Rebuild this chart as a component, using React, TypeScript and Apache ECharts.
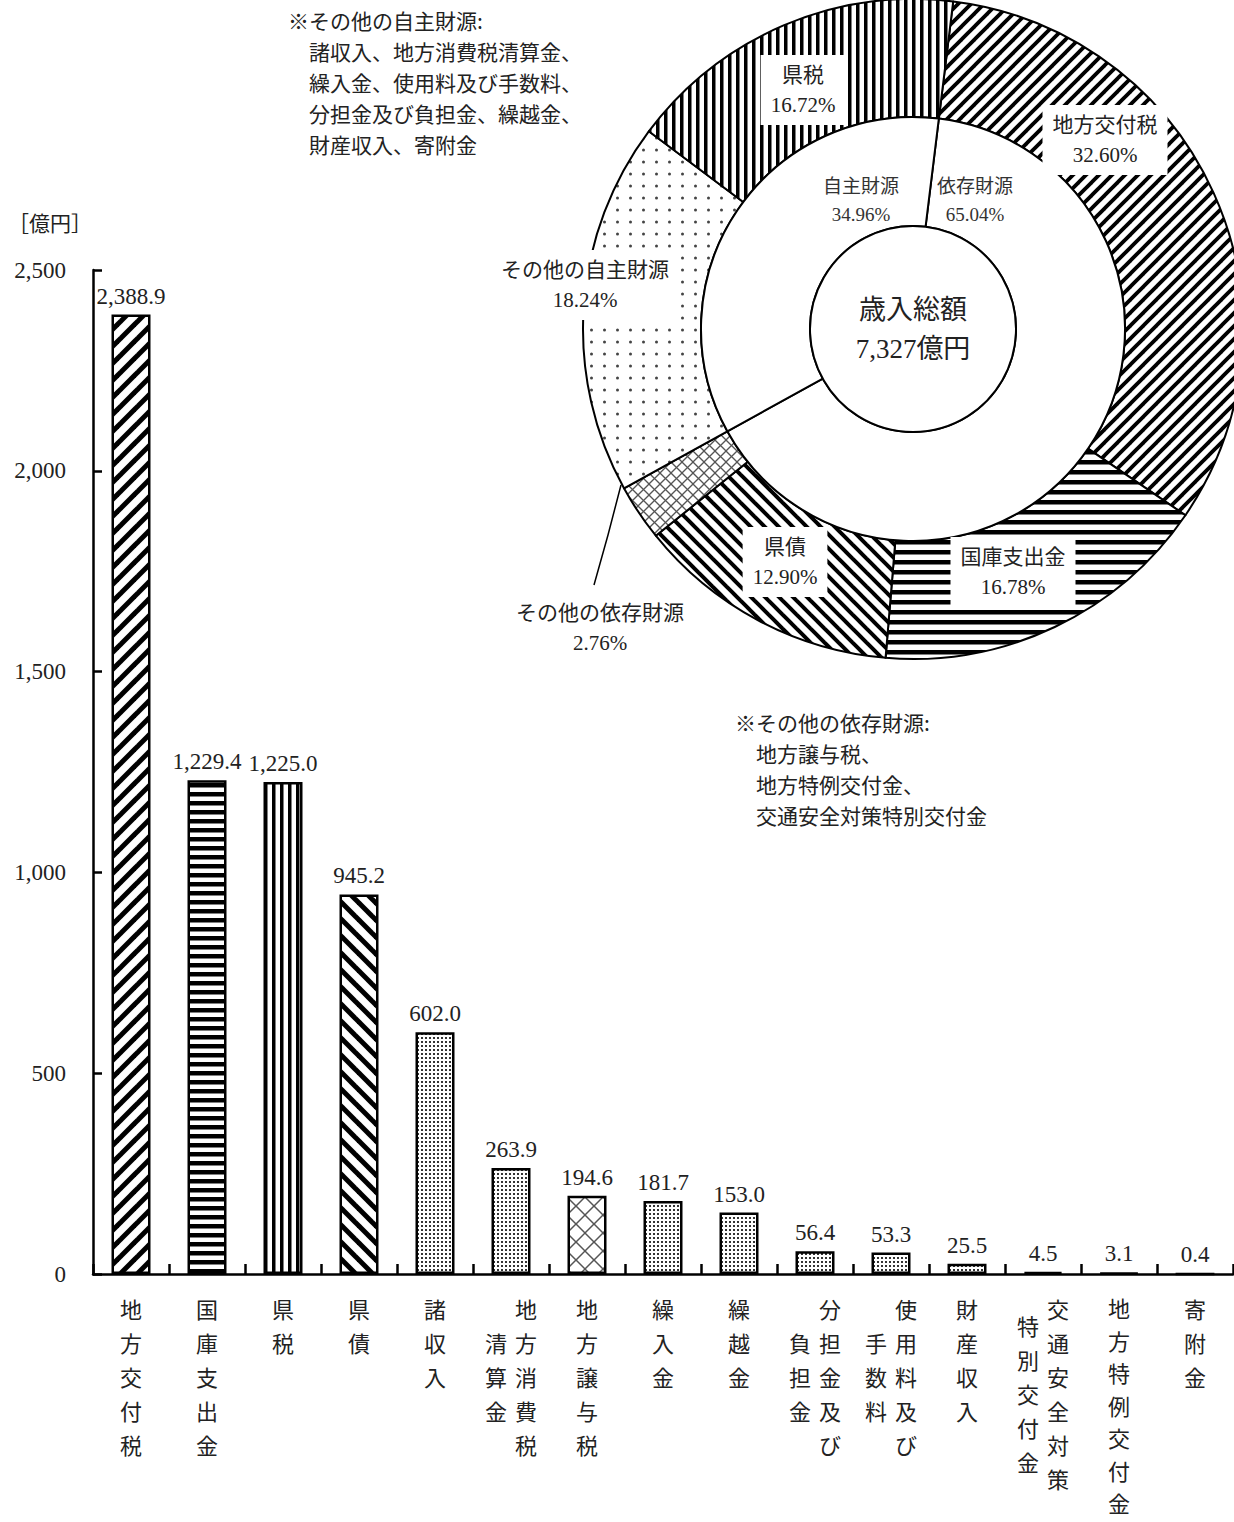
import React, { useEffect, useRef } from 'react';
import * as echarts from 'echarts';

// ---------- data ----------
const categories = ['地方交付税', '国庫支出金', '県税', '県債', '諸収入', '地方消費税清算金', '地方譲与税', '繰入金', '繰越金', '分担金及び負担金', '使用料及び手数料', '財産収入', '交通安全対策特別交付金', '地方特例交付金', '寄附金'];
const values = [2388.9, 1229.4, 1225.0, 945.2, 602.0, 263.9, 194.6, 181.7, 153.0, 56.4, 53.3, 25.5, 4.5, 3.1, 0.4];
const labelRightColumn = ['地方交付税', '国庫支出金', '県税', '県債', '諸収入', '地方消費税', '地方譲与税', '繰入金', '繰越金', '分担金及び', '使用料及び', '財産収入', '交通安全対策', '地方特例交付金', '寄附金'];
const labelLeftColumn = ['', '', '', '', '', '清算金', '', '', '', '負担金', '手数料', '', '特別交付金', '', ''];
const barPatternKeys = ['slash', 'hline', 'vline', 'backslash', 'dots', 'dots', 'cross', 'dots', 'dots', 'dots', 'dots', 'dots', 'white', 'dots', 'white'];

const yMin = 0;
const yMax = 2500;
const yInterval = 500;
const unitLabel = '［億円］';

const pieNames = ['地方交付税', '国庫支出金', '県債', 'その他の依存財源', 'その他の自主財源', '県税'];
const pieValues = [32.60, 16.78, 12.90, 2.76, 18.24, 16.72];
const piePatternKeys = ['slash', 'hline', 'backslash', 'cross', 'sparseDots', 'vline'];
const ringNames = ['依存財源', '自主財源'];
const ringValues = [65.04, 34.96];
const totalTitle = '歳入総額';
const totalAmount = '7,327億円';

const noteOwnTitle = '※その他の自主財源:';
const noteOwnLines = ['諸収入、地方消費税清算金、', '繰入金、使用料及び手数料、', '分担金及び負担金、繰越金、', '財産収入、寄附金'];
const noteDepTitle = '※その他の依存財源:';
const noteDepLines = ['地方譲与税、', '地方特例交付金、', '交通安全対策特別交付金'];

// ---------- layout / style ----------
const FONT_SERIF = '"Liberation Serif", "Noto Sans CJK JP", serif';
const FONT_JP = '"Noto Sans CJK JP", sans-serif';
const PIE_CX = 913;
const PIE_CY = 329;
const R_IN = 103;
const R_MID = 212;
const R_OUT = 330;
const START_ANGLE = 83;
const ROW = 34;
const COL_SHIFT = 30;
const outerLabelPos: number[][] = [[1105, 140], [1013, 572], [785, 562], [600, 628], [585, 285], [803, 90]];
const ringLabelPos: number[][] = [[975, 200], [861, 200]];

type Pat = { image: string; repeat: 'repeat'; imageWidth: number; imageHeight: number };

function makeTile(w: number, h: number, draw: (ctx: CanvasRenderingContext2D) => void): Pat {
  const c = document.createElement('canvas');
  c.width = w;
  c.height = h;
  const ctx = c.getContext('2d') as CanvasRenderingContext2D;
  ctx.fillStyle = '#fff';
  ctx.fillRect(0, 0, w, h);
  draw(ctx);
  return { image: c.toDataURL(), repeat: 'repeat', imageWidth: w, imageHeight: h };
}

function diag(p: number, lw: number, slash: boolean, color = '#000'): Pat {
  return makeTile(p, p, (ctx) => {
    ctx.strokeStyle = color;
    ctx.lineWidth = lw;
    for (const o of [-p, 0, p]) {
      ctx.beginPath();
      if (slash) {
        ctx.moveTo(o - 2, p + 2);
        ctx.lineTo(o + p + 2, -2);
      } else {
        ctx.moveTo(o - 2, -2);
        ctx.lineTo(o + p + 2, p + 2);
      }
      ctx.stroke();
    }
  });
}

function cross(p: number, lw: number, color: string): Pat {
  return makeTile(p, p, (ctx) => {
    ctx.strokeStyle = color;
    ctx.lineWidth = lw;
    for (const o of [-p, 0, p]) {
      ctx.beginPath();
      ctx.moveTo(o - 2, p + 2);
      ctx.lineTo(o + p + 2, -2);
      ctx.stroke();
      ctx.beginPath();
      ctx.moveTo(o - 2, -2);
      ctx.lineTo(o + p + 2, p + 2);
      ctx.stroke();
    }
  });
}

function hStripes(period: number, thick: number): Pat {
  return makeTile(period, period, (ctx) => {
    ctx.fillStyle = '#000';
    ctx.fillRect(0, 0, period, thick);
  });
}

function vStripes(period: number, thick: number): Pat {
  return makeTile(period, period, (ctx) => {
    ctx.fillStyle = '#000';
    ctx.fillRect(0, 0, thick, period);
  });
}

function dots(px: number, py: number, size: number, color: string, round: boolean): Pat {
  return makeTile(px, py, (ctx) => {
    ctx.fillStyle = color;
    if (round) {
      ctx.beginPath();
      ctx.arc(px / 2, py / 2, size / 2, 0, Math.PI * 2);
      ctx.fill();
    } else {
      ctx.fillRect(1, 1, size, size);
    }
  });
}

const vertical = (s: string) => Array.from(s).join('\n');

function buildOption() {
  const barPatterns: Record<string, any> = {
    slash: diag(17, 5, true),
    backslash: diag(17, 5, false),
    hline: hStripes(9, 4.5),
    vline: vStripes(8, 3.5),
    dots: dots(4, 4, 2, '#333', false),
    cross: cross(18, 1.5, '#555'),
    white: '#fff',
  };
  const piePatterns: Record<string, any> = {
    slash: diag(13, 3.8, true),
    backslash: diag(14, 4, false),
    hline: hStripes(10, 4.5),
    vline: vStripes(8, 3.5),
    cross: cross(11, 1.3, '#555'),
    sparseDots: dots(13, 12, 3, '#444', true),
  };

  // right (first) column of each vertical label; shifted right when a second column exists
  const rightAxisData = categories.map((c, i) => {
    const two = labelLeftColumn[i].length > 0;
    const long = Array.from(labelRightColumn[i]).length >= 7;
    const ts: any = {};
    if (two) ts.padding = [0, 0, 0, COL_SHIFT];
    if (long) ts.lineHeight = 32.5;
    return { value: c, textStyle: ts };
  });
  // left (second) column, vertically centred against the right column
  const leftAxisData = categories.map((c, i) => {
    const nR = Array.from(labelRightColumn[i]).length;
    const nL = Array.from(labelLeftColumn[i]).length;
    const top = nL > 0 ? ((nR - nL) * ROW) / 2 : 0;
    return { value: c, textStyle: { padding: [top, COL_SHIFT, 0, 0] } };
  });

  const labelCommon = {
    interval: 0,
    margin: 17,
    fontSize: 22,
    lineHeight: ROW,
    fontFamily: FONT_JP,
    color: '#222',
  };

  return {
    animation: false,
    backgroundColor: '#fff',
    grid: { left: 93, right: 1, top: 270, bottom: 248, containLabel: false },
    xAxis: [
      {
        type: 'category',
        position: 'bottom',
        data: rightAxisData,
        axisLine: { show: true, lineStyle: { color: '#000', width: 2.5 } },
        axisTick: { show: true, inside: true, length: 10, lineStyle: { color: '#000', width: 2.5 } },
        axisLabel: { ...labelCommon, formatter: (_v: string, i: number) => vertical(labelRightColumn[i]) },
        splitLine: { show: false },
      },
      {
        type: 'category',
        position: 'bottom',
        data: leftAxisData,
        axisLine: { show: false },
        axisTick: { show: false },
        axisLabel: { ...labelCommon, formatter: (_v: string, i: number) => vertical(labelLeftColumn[i]) },
        splitLine: { show: false },
      },
    ],
    yAxis: {
      type: 'value',
      min: yMin,
      max: yMax,
      interval: yInterval,
      axisLine: { show: true, lineStyle: { color: '#000', width: 2.5 } },
      axisTick: { show: true, inside: true, length: 9, lineStyle: { color: '#000', width: 2.5 } },
      splitLine: { show: false },
      axisLabel: {
        margin: 27,
        fontSize: 23,
        fontFamily: FONT_SERIF,
        color: '#222',
        formatter: (v: number) => v.toLocaleString('en-US'),
      },
    },
    graphic: [
      {
        type: 'text',
        x: 8,
        y: 222,
        silent: true,
        style: { text: unitLabel, fontSize: 21, fontFamily: FONT_JP, fill: '#222', verticalAlign: 'middle' },
      },
      {
        type: 'text',
        x: 288,
        y: 4,
        silent: true,
        style: {
          text: [noteOwnTitle, ...noteOwnLines.map((l) => '\u3000' + l)].join('\n'),
          fontSize: 21,
          lineHeight: 31,
          fontFamily: FONT_JP,
          fill: '#222',
          verticalAlign: 'top',
        },
      },
      {
        type: 'text',
        x: 735,
        y: 706,
        silent: true,
        style: {
          text: [noteDepTitle, ...noteDepLines.map((l) => '\u3000' + l)].join('\n'),
          fontSize: 21,
          lineHeight: 31,
          fontFamily: FONT_JP,
          fill: '#222',
          verticalAlign: 'top',
        },
      },
    ],
    series: [
      {
        type: 'bar',
        silent: true,
        xAxisIndex: 0,
        barWidth: 39,
        data: values.map((v, i) => ({
          value: v,
          itemStyle: { color: barPatterns[barPatternKeys[i]], borderColor: '#000', borderWidth: 2.5 },
        })),
        label: {
          show: true,
          position: 'top',
          distance: 7,
          fontSize: 23,
          fontFamily: FONT_SERIF,
          color: '#222',
          formatter: (p: any) => Number(p.value).toLocaleString('en-US', { minimumFractionDigits: 1, maximumFractionDigits: 1 }),
        },
        emphasis: { disabled: true },
      },
      {
        type: 'pie',
        silent: true,
        center: [PIE_CX, PIE_CY],
        radius: [R_MID, R_OUT],
        startAngle: START_ANGLE,
        clockwise: true,
        avoidLabelOverlap: false,
        itemStyle: { borderColor: '#000', borderWidth: 2 },
        data: pieNames.map((n, i) => {
          const item: any = { name: n, value: pieValues[i], itemStyle: { color: piePatterns[piePatternKeys[i]] } };
          if (i === 3) {
            item.label = { position: 'outside', backgroundColor: 'transparent', padding: 0 };
            item.labelLine = { show: true, length: 10, length2: 10, lineStyle: { color: '#000', width: 1.5 } };
          }
          return item;
        }),
        label: {
          show: true,
          position: 'inside',
          formatter: (p: any) => `${p.name}\n${Number(p.value).toFixed(2)}%`,
          fontSize: 21,
          lineHeight: 30,
          fontFamily: FONT_SERIF,
          color: '#222',
          backgroundColor: '#fff',
          padding: [5, 10],
        },
        labelLine: { show: false, lineStyle: { color: '#000', width: 1.5 } },
        labelLayout: (p: any) => {
          const pos = outerLabelPos[p.dataIndex];
          const r: any = { x: pos[0], y: pos[1], align: 'center', verticalAlign: 'middle' };
          if (p.dataIndex === 3) r.labelLinePoints = [[621, 485], [608, 535], [594, 585]];
          return r;
        },
        emphasis: { disabled: true },
      },
      {
        type: 'pie',
        silent: true,
        center: [PIE_CX, PIE_CY],
        radius: [R_IN, R_MID],
        startAngle: START_ANGLE,
        clockwise: true,
        avoidLabelOverlap: false,
        itemStyle: { color: '#fff', borderColor: '#000', borderWidth: 2 },
        data: ringNames.map((n, i) => ({ name: n, value: ringValues[i] })),
        label: {
          show: true,
          position: 'inside',
          formatter: (p: any) => `${p.name}\n${Number(p.value).toFixed(2)}%`,
          fontSize: 19,
          lineHeight: 28,
          fontFamily: FONT_SERIF,
          color: '#333',
        },
        labelLine: { show: false },
        labelLayout: (p: any) => {
          const pos = ringLabelPos[p.dataIndex];
          return { x: pos[0], y: pos[1], align: 'center', verticalAlign: 'middle' };
        },
        emphasis: { disabled: true },
      },
      {
        type: 'pie',
        silent: true,
        center: [PIE_CX, PIE_CY],
        radius: [0, R_IN],
        itemStyle: { color: '#fff', borderColor: '#000', borderWidth: 2 },
        data: [{ name: totalTitle, value: 1 }],
        label: {
          show: true,
          position: 'center',
          formatter: () => `${totalTitle}\n${totalAmount}`,
          fontSize: 27,
          lineHeight: 39,
          fontFamily: FONT_SERIF,
          color: '#222',
        },
        labelLine: { show: false },
        emphasis: { disabled: true },
      },
    ],
  };
}

export default function App() {
  const ref = useRef<HTMLDivElement>(null);
  useEffect(() => {
    if (!ref.current) return;
    const chart = echarts.init(ref.current, null, { renderer: 'svg' });
    chart.setOption(buildOption() as any);
    return () => chart.dispose();
  }, []);
  return (
    <div
      ref={ref}
      style={{ position: 'absolute', left: 0, top: 0, width: 1234, height: 1522, background: '#fff' }}
    />
  );
}
